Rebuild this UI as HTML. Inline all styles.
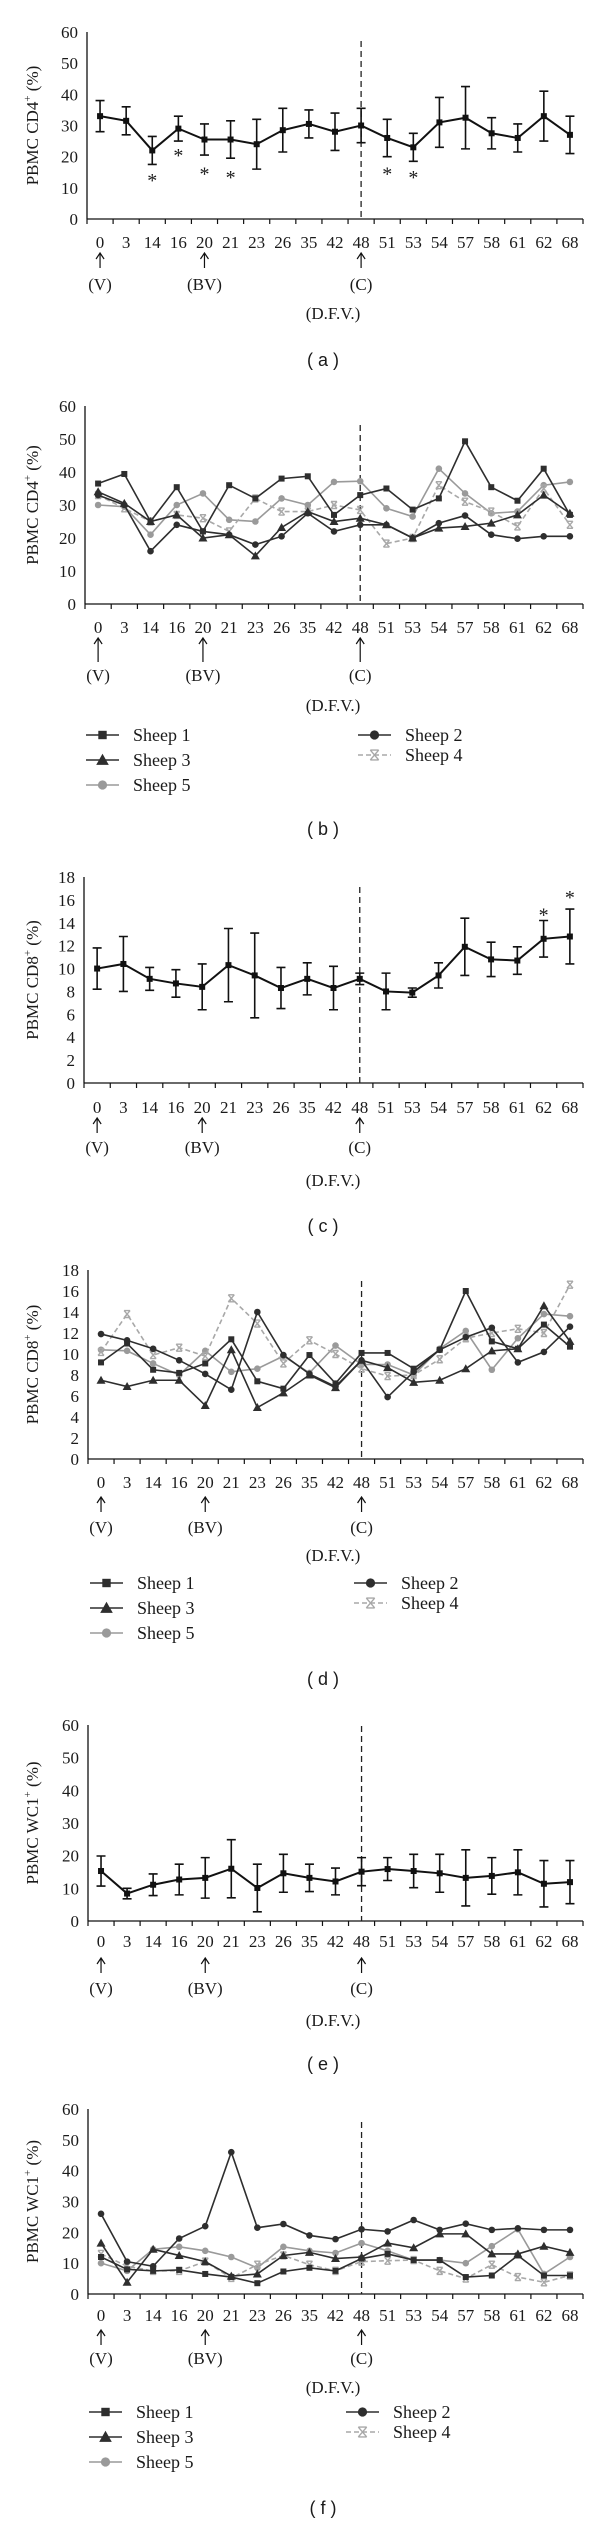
<!DOCTYPE html>
<html><head><meta charset="utf-8"><style>
html,body{margin:0;padding:0;background:#fff}
svg{display:block}
text{font-family:"Liberation Serif",serif;fill:#1a1a1a}
.t{font-family:"Liberation Sans",sans-serif}
</style></head><body>
<svg id="fig" width="600" height="2522" viewBox="0 0 600 2522" xmlns="http://www.w3.org/2000/svg"></svg>
<script>
const categories=["0","3","14","16","20","21","23","26","35","42","48","51","53","54","57","58","61","62","68"];
const yTicksPct=[0,10,20,30,40,50,60];
const yTicksCd8=[0,2,4,6,8,10,12,14,16,18];
// Panel a
const meanA=[33,31.5,22,29,25.5,25.5,24,28.5,30.5,28,30,26,23,31,32.5,27.5,26,33,27];
const errA=[5,4.5,4.5,4,5,6,8,7,4.5,6,5.5,6,4.5,8,10,5,4.5,8,6];
const starIdxA=[2,3,4,5,11,12];
const starValA=[13.5,21.5,15.5,14.5,15.5,14.5];
// Panel b
const b1=[36.5,39.4,25,35.4,22,36,32,38,38.7,27,33,35,28.6,32,49.3,35.4,31.3,41,27];
const b2=[33,30,16,24,22,21,18,20.5,27.5,22,24,24,20,24.5,26.8,21,19.8,20.5,20.5];
const b3=[34,30.5,25,27,20,21,14.6,23.2,28,25,26,24,20,23,23.5,24.5,27,33,27.5];
const b4=[33,29,25,27,26,22,32,28,28,30,28.5,18.3,20,36,31,28,23.5,35,24];
const b5=[30,29.5,21,30,33.5,25.5,25,32,30,37,37.2,29,26.5,41,33.5,27.5,28,36,37];
// Panel c
const meanC=[10,10.4,9.1,8.7,8.4,10.3,9.4,8.3,9.1,8.3,9.1,8.0,7.9,9.4,11.9,10.8,10.7,12.6,12.8];
const errC=[1.8,2.4,1.0,1.2,2,3.2,3.7,1.8,1.4,1.9,0.5,1.6,0.4,1.1,2.5,1.5,1.2,1.6,2.4];
const starIdxC=[17,18];
const starValC=[15.0,16.5];
// Panel d
const d1=[9.2,11.0,8.5,8.2,9.1,11.4,7.4,6.7,9.9,7.2,10.1,10.1,8.6,10.4,16,11.2,10.5,12.8,10.7];
const d2=[11.9,11.3,10.5,9.4,8.1,6.6,14,9.9,8.1,6.9,9.4,5.9,8.3,10.4,11.6,12.5,9.2,10.2,12.6];
const d3=[7.5,6.9,7.5,7.5,5.1,10.4,4.9,6.3,8.0,6.8,9.4,8.7,7.3,7.5,8.6,10.3,10.5,14.6,11.2];
const d4=[10.2,13.8,9.9,10.6,9.8,15.3,12.9,9.1,11.3,10.0,8.6,7.9,8.0,9.5,11.5,12.0,12.4,12.0,16.6];
const d5=[10.4,10.3,9.1,8.0,10.3,8.3,8.6,9.8,8.2,10.8,9.0,9.0,8.0,10.5,12.2,8.5,11.5,13.8,13.6];
// Panel e
const meanE=[15.3,8.4,11.1,12.7,13.2,16,10.1,14.6,13.2,12.1,15.1,15.9,15.3,14.6,13.2,13.8,14.9,11.4,11.9];
const errE=[4.6,1.6,3.3,4.7,6.2,8.9,7.3,5.8,4.2,4.1,4.3,3.5,5.1,5.8,8.6,5.6,6.9,7.1,6.6];
// Panel f
const f1=[12,8,7.5,7.8,6.5,5.5,3.5,7.3,8.5,7.5,11.5,13,11,11,5.5,6,12.5,6,6];
const f2=[26,10.5,9,18,22,46,21.5,22.7,19,17.8,21,20.3,24,20.8,22.8,20.8,21.3,20.8,20.8];
const f3=[16.5,3.8,14.5,12.5,10.5,5.8,6.5,12.5,13.5,11.5,12,16.5,15,19.5,19.5,13,13,15.5,13.5];
const f4=[13,9,7.5,7.5,10.5,5.2,9.5,12.5,9.5,7.5,10.5,10.8,11,7.5,5,9.5,5.5,3.8,6];
const f5=[10,7.5,14.5,15.3,14,12,8.5,15.3,14,13.3,16.5,14,11,11,10,15.5,21,6.5,12];

const NS="http://www.w3.org/2000/svg";
const svg=document.getElementById('fig');
function mk(tag,attrs,parent){const e=document.createElementNS(NS,tag);for(const k in attrs)e.setAttribute(k,attrs[k]);(parent||svg).appendChild(e);return e;}

const DARK="#2e2e2e",GRAY="#9a9a9a",GRAY4="#a8a8a8";
const sheepStyle=[
 {name:"Sheep 1",color:DARK,marker:"square",dash:null},
 {name:"Sheep 2",color:DARK,marker:"circle",dash:null},
 {name:"Sheep 3",color:DARK,marker:"triangle",dash:null},
 {name:"Sheep 4",color:GRAY4,marker:"x",dash:"5,3"},
 {name:"Sheep 5",color:GRAY,marker:"circle",dash:null}];

function marker(g,type,x,y,color,big){
  const s=big?1.4:1;let m;
  if(type==="square"){m=mk('rect',{x:x-3*s,y:y-3*s,width:6*s,height:6*s,fill:color},g);}
  else if(type==="circle"){m=mk('circle',{cx:x,cy:y,r:3.3*s,fill:color},g);}
  else if(type==="triangle"){m=mk('path',{d:`M${x} ${y-4.5*s}L${x+4.5*s} ${y+3.5*s}L${x-4.5*s} ${y+3.5*s}Z`,fill:color},g);}
  else {m=mk('path',{d:`M${x-3*s} ${y-3.5*s}L${x+3*s} ${y+3.5*s}M${x+3*s} ${y-3.5*s}L${x-3*s} ${y+3.5*s}M${x-3*s} ${y-3.5*s}H${x+3*s}M${x-3*s} ${y+3.5*s}H${x+3*s}`,stroke:color,'stroke-width':1.4,fill:'none'},g);}
  
  
}

function panel(cfg){
  const g=mk('g',{});
  
  
  const x0=cfg.ax0,x1=583,step=(x1-x0)/categories.length;
  const xs=i=>x0+(i+0.5)*step;
  const ys=v=>cfg.y0-(v/cfg.yMax)*(cfg.y0-cfg.yTop);
  // axes
  const ya=mk('line',{x1:x0,y1:cfg.yTop,x2:x0,y2:cfg.y0,stroke:'#111','stroke-width':1.3},g);
  
  const xa=mk('line',{x1:x0,y1:cfg.y0,x2:x1,y2:cfg.y0,stroke:'#111','stroke-width':1.3},g);
  
  for(let i=0;i<=categories.length;i++){
    const tx=x0+i*step;
    const tk=mk('line',{x1:tx,y1:cfg.y0,x2:tx,y2:cfg.y0+5,stroke:'#111','stroke-width':1.2},g);
    
  }
  cfg.ticks.forEach(v=>{
    const t=mk('text',{x:x0-9,y:ys(v)+6,'text-anchor':'end','font-size':17},g);
    t.textContent=String(v);
    
  });
  categories.forEach((c,i)=>{
    const t=mk('text',{x:xs(i),y:cfg.labY+6,'text-anchor':'middle','font-size':17},g);
    t.textContent=c;
    
  });
  // y label
  const yl=mk('text',{transform:`translate(38,${(cfg.yTop+cfg.y0)/2}) rotate(-90)`,'text-anchor':'middle','font-size':17},g);
  
  const s1=mk('tspan',{},yl);s1.textContent=cfg.ylab;
  const s2=mk('tspan',{dy:-7,'font-size':11},yl);s2.textContent='+';
  const s3=mk('tspan',{dy:7},yl);s3.textContent='\u00a0(%)';
  // dashed line
  const dl=mk('line',{x1:xs(10),y1:cfg.dashTop,x2:xs(10),y2:cfg.y0,stroke:'#222','stroke-width':1.3,'stroke-dasharray':'6,4'},g);
  
  // arrows
  [[0,'(V)','vaccination'],[4,'(BV)','booster'],[10,'(C)','challenge']].forEach(a=>{
    const ax=xs(a[0]);
    const ar=mk('path',{d:`M${ax} ${cfg.arT}V${cfg.arB}M${ax-4} ${cfg.arT+6}L${ax} ${cfg.arT}L${ax+4} ${cfg.arT+6}`,stroke:'#111','stroke-width':1.2,fill:'none'},g);
    
    const t=mk('text',{x:ax,y:cfg.annY+6,'text-anchor':'middle','font-size':17},g);
    t.textContent=a[1];
    
  });
  const df=mk('text',{x:333,y:cfg.dfvY+6,'text-anchor':'middle','font-size':17},g);
  df.textContent='(D.F.V.)';
  
  const ti=mk('text',{x:323,y:cfg.titleY+7,'text-anchor':'middle','font-size':18,class:'t'},g);
  ti.textContent='( '+cfg.letter+' )';
  

  if(cfg.mean){
    cfg.mean.forEach((v,i)=>{
      const x=xs(i),e=cfg.err[i];
      const eb=mk('path',{d:`M${x} ${ys(v+e)}V${ys(v-e)}M${x-4.5} ${ys(v+e)}H${x+4.5}M${x-4.5} ${ys(v-e)}H${x+4.5}`,stroke:'#111','stroke-width':1.6,fill:'none'},g);
      
    });
    const pl=mk('polyline',{points:cfg.mean.map((v,i)=>xs(i)+','+ys(v)).join(' '),fill:'none',stroke:'#111','stroke-width':2},g);
    
    cfg.mean.forEach((v,i)=>marker(g,'square',xs(i),ys(v),'#111'));
    (cfg.starIdx||[]).forEach((idx,k)=>{
      const t=mk('text',{x:xs(idx),y:ys(cfg.starVal[k])+10,'text-anchor':'middle','font-size':20},g);
      t.textContent='*';
      
    });
  }
  if(cfg.series){
    const order=[4,3,0,2,1];
    order.forEach(si=>{
      const st=sheepStyle[si],vals=cfg.series[si];
      const sg=mk('g',{},g);
      
      
      const a={points:vals.map((v,i)=>xs(i)+','+ys(v)).join(' '),fill:'none',stroke:st.color,'stroke-width':1.6};
      if(st.dash)a['stroke-dasharray']=st.dash;
      mk('polyline',a,sg);
      vals.forEach((v,i)=>marker(sg,st.marker,xs(i),ys(v),st.color));
    });
    // legend
    const pos=[[cfg.lc1,cfg.lr[0]],[cfg.lc2,cfg.lr2[0]],[cfg.lc1,cfg.lr[1]],[cfg.lc2,cfg.lr2[1]],[cfg.lc1,cfg.lr[2]]];
    sheepStyle.forEach((st,si)=>{
      const lg=mk('g',{},g);
      
      
      const [lx,ly]=pos[si];
      const a={x1:lx,y1:ly,x2:lx+33,y2:ly,stroke:st.color,'stroke-width':1.6};
      if(st.dash)a['stroke-dasharray']=st.dash;
      mk('line',a,lg);
      marker(lg,st.marker,lx+16.5,ly,st.color,true);
      const t=mk('text',{x:lx+47,y:ly+6,'font-size':18},lg);
      t.textContent=st.name;
    });
  }
}

panel({letter:'a',ax0:87,yTop:32,y0:219,yMax:60,ticks:yTicksPct,labY:242,arT:253,arB:268,annY:284,dfvY:313,titleY:359,dashTop:41,ylab:'PBMC CD4',mean:meanA,err:errA,starIdx:starIdxA,starVal:starValA});
panel({letter:'b',ax0:85,yTop:406,y0:604,yMax:60,ticks:yTicksPct,labY:627,arT:638,arB:662,annY:675,dfvY:705,titleY:828,dashTop:425,ylab:'PBMC CD4',series:[b1,b2,b3,b4,b5],lc1:86,lc2:358,lr:[735,760,785],lr2:[735,755]});
panel({letter:'c',ax0:84,yTop:877,y0:1083,yMax:18,ticks:yTicksCd8,labY:1107,arT:1118,arB:1133,annY:1147,dfvY:1180,titleY:1225,dashTop:887,ylab:'PBMC CD8',mean:meanC,err:errC,starIdx:starIdxC,starVal:starValC});
panel({letter:'d',ax0:88,yTop:1270,y0:1459,yMax:18,ticks:yTicksCd8,labY:1482,arT:1497,arB:1512,annY:1527,dfvY:1555,titleY:1678,dashTop:1281,ylab:'PBMC CD8',series:[d1,d2,d3,d4,d5],lc1:90,lc2:354,lr:[1583,1608,1633],lr2:[1583,1603]});
panel({letter:'e',ax0:88,yTop:1725,y0:1921,yMax:60,ticks:yTicksPct,labY:1941,arT:1958,arB:1973,annY:1988,dfvY:2020,titleY:2063,dashTop:1726,ylab:'PBMC WC1',mean:meanE,err:errE});
panel({letter:'f',ax0:88,yTop:2109,y0:2294,yMax:60,ticks:yTicksPct,labY:2315,arT:2330,arB:2345,annY:2358,dfvY:2387,titleY:2507,dashTop:2122,ylab:'PBMC WC1',series:[f1,f2,f3,f4,f5],lc1:89,lc2:346,lr:[2412,2437,2462],lr2:[2412,2432]});
</script>
</body></html>
